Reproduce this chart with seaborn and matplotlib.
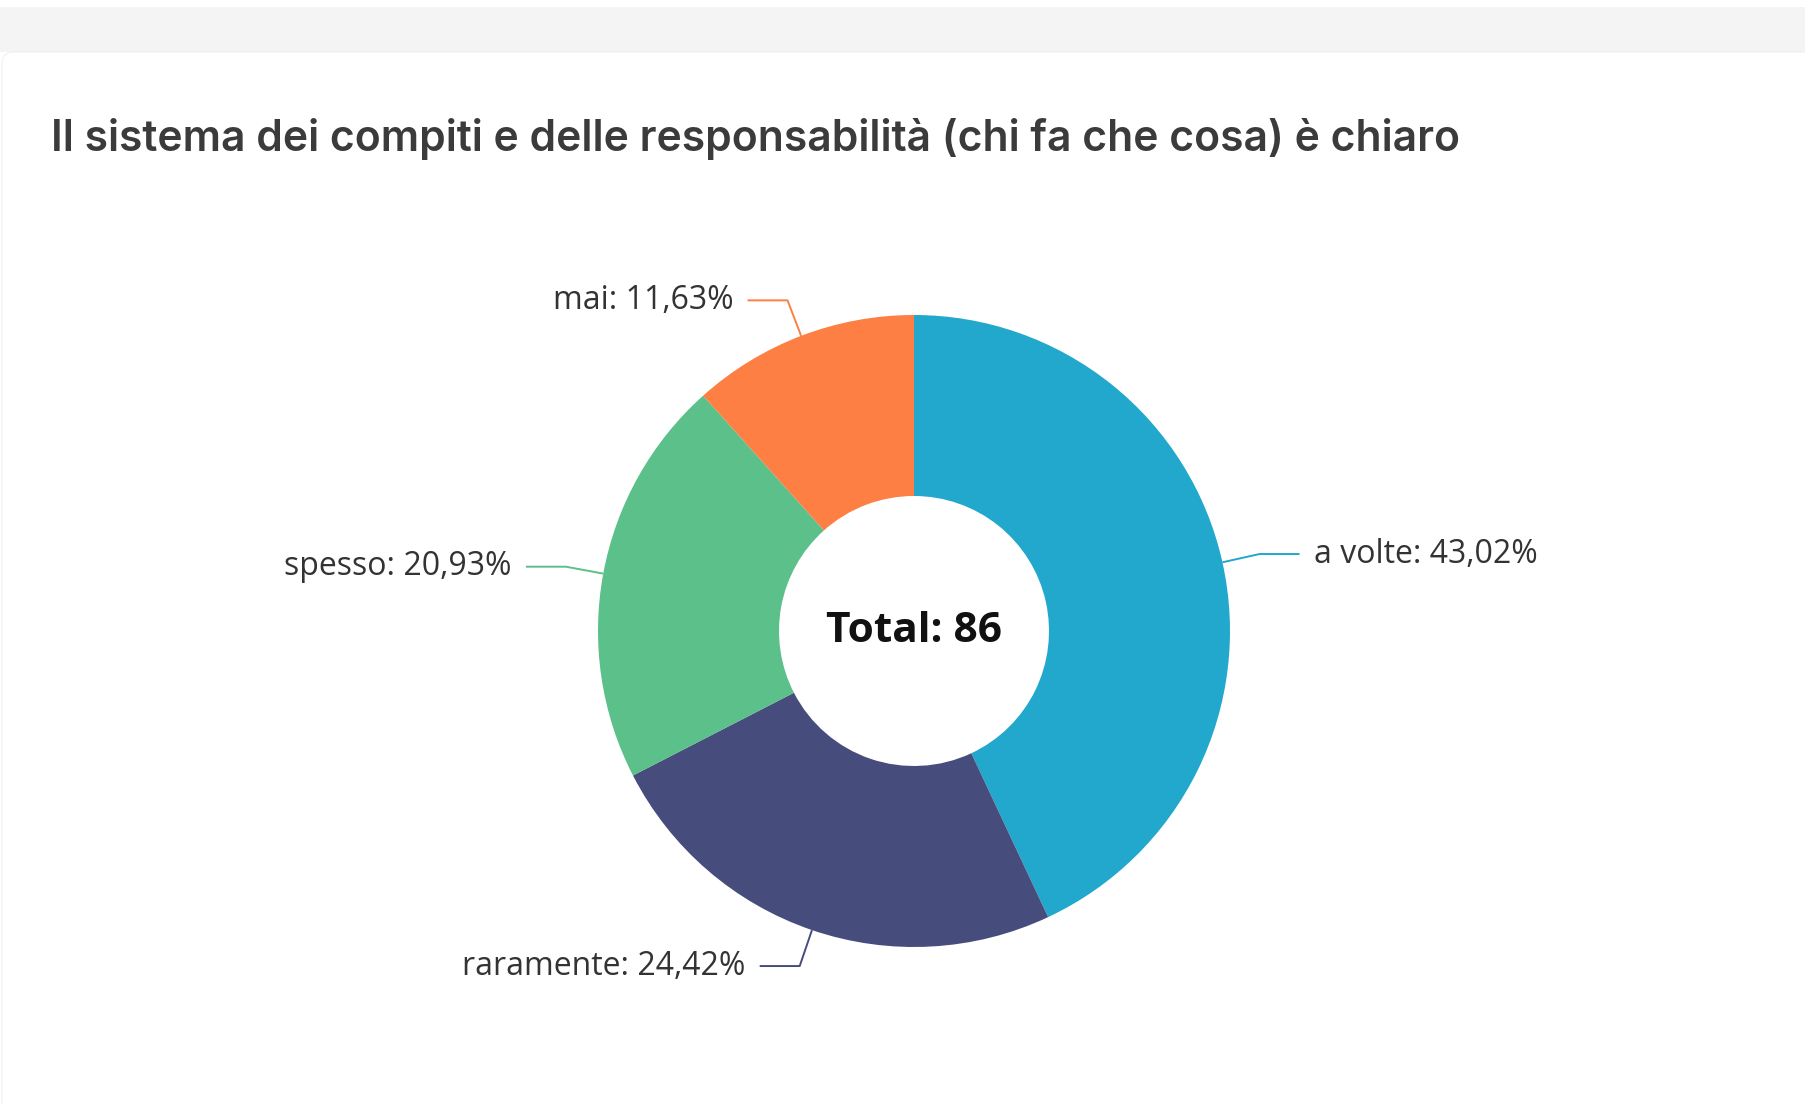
import matplotlib
matplotlib.use("Agg")
import matplotlib.pyplot as plt
from matplotlib.patches import Rectangle, FancyBboxPatch
import numpy as np
import seaborn as sns

# --- data ---
categories = ["a volte", "raramente", "spesso", "mai"]
counts = [37, 21, 18, 10]
slice_colors = ["#21a8cc", "#464d7c", "#5bc08a", "#fd7f43"]
title = "Il sistema dei compiti e delle responsabilità (chi fa che cosa) è chiaro"

sns.set_theme(style="white")
plt.rcParams["font.family"] = ["Open Sans", "DejaVu Sans"]

W, H = 1806, 1104
fig = plt.figure(figsize=(W / 100, H / 100), dpi=100)
fig.patch.set_facecolor("white")
ax = fig.add_axes([0, 0, 1, 1])

# page background: grey strip above the white card
ax.add_patch(Rectangle((0, H - 52), W, 45, facecolor="#f4f4f4", edgecolor="none", zorder=0))
ax.add_patch(FancyBboxPatch((2, -40), W + 40, H - 50 + 40 - 2,
                            boxstyle="round,pad=0,rounding_size=12",
                            facecolor="white", edgecolor="#ececec", lw=0.6, zorder=0.5))

# donut
cx, cy = 914, H - 631
R_out, R_in = 316, 135
palette = sns.color_palette(slice_colors)
total = sum(counts)
wedges, _ = ax.pie(counts, colors=palette, startangle=90, counterclock=False,
                   center=(cx, cy), radius=R_out,
                   wedgeprops=dict(width=R_out - R_in, edgecolor="none"))

# leader lines and labels
for w, cat, n, col in zip(wedges, categories, counts, palette):
    mid = np.deg2rad((w.theta1 + w.theta2) / 2)
    x0, y0 = cx + R_out * np.cos(mid), cy + R_out * np.sin(mid)
    x1, y1 = cx + (R_out + 38) * np.cos(mid), cy + (R_out + 38) * np.sin(mid)
    side = 1 if np.cos(mid) >= 0 else -1
    x2 = x1 + side * 40
    ax.plot([x0, x1, x2], [y0, y1, y1], color=col, lw=1.4, solid_capstyle="butt", zorder=3)
    pct = f"{n / total * 100:.2f}".replace(".", ",")
    ax.text(x2 + side * 14, y1, f"{cat}: {pct}%", ha="left" if side > 0 else "right",
            va="center", fontsize=23, color="#333333", family=["Open Sans", "DejaVu Sans"])

ax.text(cx, H - 632, f"Total: {total}", ha="center", va="center", fontsize=30.5,
        fontweight="bold", color="#111111", family=["Open Sans", "DejaVu Sans"])

ax.text(51, H - 151, title, ha="left", va="baseline", fontsize=30.7,
        fontweight="semibold", color="#3b3b3b", family=["Inter", "DejaVu Sans"])

ax.set_xlim(0, W)
ax.set_ylim(0, H)
ax.set_aspect("auto")
ax.axis("off")

fig.savefig("out.png", dpi=100, facecolor="white")
